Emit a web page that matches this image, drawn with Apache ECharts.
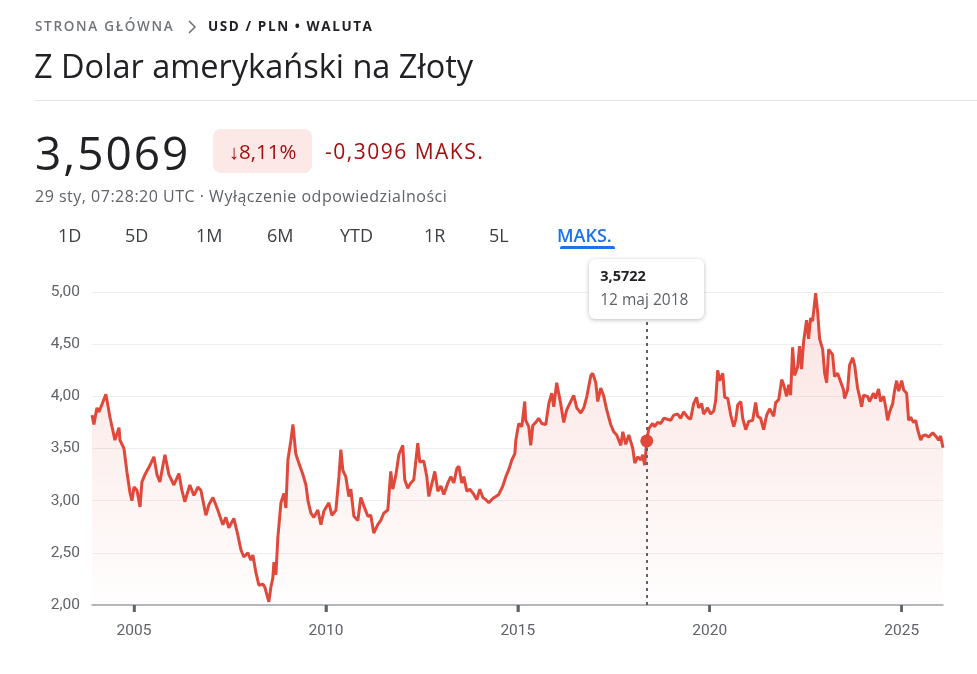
<!DOCTYPE html>
<html>
<head>
<meta charset="utf-8">
<script src="https://cdn.jsdelivr.net/npm/echarts@6/dist/echarts.min.js"></script>
<style>
  html, body { margin:0; padding:0; background:#fff; }
  body { width:977px; height:674px; overflow:hidden; position:relative; font-family: "Open Sans", Roboto, Arial, sans-serif; color:#202124; }
  #chart { position:absolute; left:0; top:0; width:977px; height:674px; }
  .abs { position:absolute; white-space:nowrap; z-index:2; }
  #crumb1 { left:35px; top:16px; font-size:13.5px; font-weight:600; letter-spacing:1.7px; color:#70757a; line-height:20px; }
  #crumb2 { left:208px; top:16px; font-size:13.5px; font-weight:700; letter-spacing:1.6px; color:#202124; line-height:20px; }
  #chev { left:187px; top:20px; }
  #title { left:34px; top:45px; font-size:32.5px; line-height:42px; color:#202124; font-weight:400; }
  #divider { left:35px; top:100px; width:942px; height:1px; background:#e3e3e3; }
  #price { left:35px; top:120px; font-size:46px; line-height:64px; color:#202124; letter-spacing:2px; }
  #badge { left:213px; top:129px; width:99px; height:44px; border-radius:8px; background:#fce8e6; color:#a50e0e; font-size:20.5px; line-height:44px; text-align:center; }
  #change { left:325px; top:137px; font-size:21px; line-height:28px; color:#a50e0e; letter-spacing:1.5px; }
  #sub { left:35px; top:185px; font-size:16px; line-height:22px; color:#5f6368; letter-spacing:0.5px; }
  .tab { position:absolute; top:223px; font-size:18px; line-height:24px; color:#3c4043; z-index:2; white-space:nowrap; }
  #tabline { left:560px; top:246px; width:55px; height:3px; background:#1a73e8; border-radius:2px 2px 0 0; }
  #tip { position:absolute; top:259px; width:115px; height:60px; background:#fff; border-radius:6px;
         box-shadow:0 1px 4px rgba(60,64,67,0.35); z-index:3; box-sizing:border-box; }
  #tipv { position:absolute; left:11px; top:7px; font-size:14.5px; font-weight:700; color:#202124; line-height:20px; }
  #tipd { position:absolute; left:11px; top:29px; font-size:15.5px; color:#5f6368; line-height:22px; }
</style>
</head>
<body>
<div id="chart"></div>

<div class="abs" id="crumb1">STRONA GŁÓWNA</div>
<svg class="abs" id="chev" width="10" height="14" viewBox="0 0 10 14"><polyline points="2,1 8,7 2,13" fill="none" stroke="#70757a" stroke-width="1.6"/></svg>
<div class="abs" id="crumb2">USD / PLN • WALUTA</div>
<div class="abs" id="title">Z Dolar amerykański na Złoty</div>
<div class="abs" id="divider"></div>
<div class="abs" id="price">3,5069</div>
<div class="abs" id="badge">↓8,11%</div>
<div class="abs" id="change">-0,3096 MAKS.</div>
<div class="abs" id="sub">29 sty, 07:28:20 UTC · Wyłączenie odpowiedzialności</div>

<div class="tab" style="left:58px">1D</div>
<div class="tab" style="left:125px">5D</div>
<div class="tab" style="left:196px">1M</div>
<div class="tab" style="left:267px">6M</div>
<div class="tab" style="left:340px">YTD</div>
<div class="tab" style="left:424px">1R</div>
<div class="tab" style="left:489px">5L</div>
<div class="tab" style="left:557px;color:#1a73e8;font-weight:600">MAKS.</div>
<div class="abs" id="tabline"></div>

<div id="tip"><div id="tipv"></div><div id="tipd"></div></div>

<script>
// ---- data ----
const dates = [
'2003-11-28','2003-12-16','2004-01-14','2004-02-02','2004-03-01','2004-04-08','2004-05-17','2004-07-03','2004-08-11','2004-08-20','2004-09-27','2004-10-26','2004-11-23','2004-12-12',
'2005-01-01','2005-01-29','2005-02-27','2005-03-17','2005-04-15','2005-05-23','2005-07-09','2005-08-07','2005-09-04','2005-10-22','2005-11-29',
'2006-01-15','2006-03-04','2006-04-01','2006-04-29','2006-06-16','2006-07-25','2006-09-01','2006-09-29','2006-11-16','2006-12-14',
'2007-01-22','2007-03-09','2007-04-26','2007-05-25','2007-06-22','2007-08-09','2007-09-16','2007-10-15','2007-11-12','2007-12-20',
'2008-01-18','2008-02-06','2008-03-06','2008-04-03','2008-05-11','2008-05-30','2008-06-18','2008-07-07','2008-07-26','2008-08-14','2008-08-24','2008-09-12','2008-10-01','2008-10-30','2008-11-27','2008-12-16',
'2009-01-04','2009-02-02','2009-02-21','2009-03-20','2009-04-18','2009-05-27','2009-06-25','2009-07-14','2009-08-11','2009-09-08','2009-10-16','2009-11-14','2009-12-13',
'2010-01-29','2010-02-27','2010-04-06','2010-05-05','2010-05-23','2010-06-11','2010-07-09','2010-08-07','2010-08-26','2010-09-24','2010-11-01','2010-11-29','2010-12-28',
'2011-02-04','2011-03-04','2011-04-01','2011-05-09','2011-06-07','2011-07-05','2011-08-13','2011-09-10','2011-09-29','2011-10-28','2011-11-26',
'2012-01-02','2012-01-21','2012-02-19','2012-03-18','2012-04-16','2012-05-24','2012-06-12','2012-07-20','2012-08-18','2012-09-06','2012-10-14','2012-11-02','2012-12-01','2012-12-30',
'2013-01-27','2013-03-06','2013-04-04','2013-05-02','2013-05-31','2013-06-19','2013-07-17','2013-08-05','2013-09-03','2013-10-01','2013-11-08','2013-12-07',
'2014-01-04','2014-02-02','2014-03-02','2014-03-31','2014-05-08','2014-06-06','2014-07-04','2014-08-11','2014-09-09','2014-10-08','2014-11-05','2014-12-04','2014-12-13',
'2015-01-10','2015-02-08','2015-03-08','2015-03-17','2015-04-15','2015-05-04','2015-05-23','2015-06-21','2015-07-19','2015-08-17','2015-09-24','2015-10-23','2015-11-20','2015-12-09',
'2016-01-06','2016-02-13','2016-03-13','2016-04-10','2016-05-18','2016-06-16','2016-07-15','2016-08-22','2016-09-20','2016-10-19','2016-11-26','2016-12-14',
'2017-01-12','2017-01-31','2017-02-28','2017-03-29','2017-04-26','2017-06-03','2017-07-02','2017-07-30','2017-09-07','2017-09-26','2017-10-24','2017-11-22','2017-12-30',
'2018-01-18','2018-02-15','2018-03-15','2018-04-03','2018-04-22','2018-05-12','2018-05-31','2018-07-07','2018-07-26','2018-08-24','2018-09-22','2018-10-21','2018-11-27','2018-12-26',
'2019-01-23','2019-03-02','2019-03-31','2019-04-28','2019-06-05','2019-07-03','2019-08-01','2019-08-29','2019-09-17','2019-10-16','2019-11-04','2019-12-12',
'2020-01-10','2020-02-08','2020-02-27','2020-03-17','2020-04-05','2020-05-04','2020-05-23','2020-06-21','2020-07-19','2020-08-17','2020-09-05','2020-09-24','2020-10-23','2020-11-10','2020-12-09',
'2021-01-06','2021-02-13','2021-03-13','2021-04-01','2021-04-29','2021-05-28','2021-06-26','2021-07-24','2021-09-01','2021-09-20','2021-10-19','2021-11-16','2021-12-05',
'2022-01-02','2022-01-21','2022-02-09','2022-02-28','2022-03-18','2022-04-16','2022-05-05','2022-05-24','2022-06-12','2022-07-11','2022-07-30','2022-08-18','2022-09-06','2022-10-05','2022-10-24','2022-11-12','2022-12-11','2022-12-30',
'2023-01-18','2023-02-06','2023-03-15','2023-04-03','2023-05-02','2023-05-31','2023-06-28','2023-07-07','2023-08-05','2023-08-24','2023-09-22','2023-10-11','2023-11-08','2023-11-27','2023-12-16',
'2024-01-04','2024-02-11','2024-03-01','2024-04-08','2024-04-27','2024-05-26','2024-06-14','2024-07-13','2024-08-01','2024-08-20','2024-09-08','2024-10-07','2024-10-26','2024-11-14','2024-12-03',
'2025-01-01','2025-01-20','2025-02-17','2025-03-08','2025-03-27','2025-04-24','2025-05-14','2025-06-02','2025-07-01','2025-07-19','2025-08-17','2025-09-15','2025-10-23','2025-11-20','2025-12-19',
'2026-01-06','2026-01-29'
];
const rates = [
3.82,3.73,3.89,3.85,3.92,4.02,3.80,3.58,3.70,3.58,3.50,3.27,3.08,3.00,
3.13,3.10,2.94,3.18,3.25,3.32,3.42,3.25,3.18,3.44,3.25,
3.15,3.26,3.10,2.99,3.15,3.05,3.13,3.10,2.86,2.96,
3.03,2.91,2.77,2.84,2.74,2.83,2.67,2.53,2.46,2.50,
2.43,2.48,2.31,2.19,2.20,2.17,2.10,2.03,2.17,2.26,2.41,2.29,2.65,2.98,3.07,2.93,
3.39,3.58,3.73,3.45,3.36,3.25,3.15,3.00,2.88,2.84,2.91,2.77,2.90,
2.98,2.86,2.91,3.23,3.49,3.29,3.23,3.04,3.11,2.85,2.81,3.03,2.95,
2.85,2.86,2.69,2.77,2.81,2.88,2.91,3.28,3.11,3.24,3.44,
3.53,3.20,3.12,3.17,3.20,3.55,3.37,3.38,3.23,3.04,3.20,3.28,3.09,3.14,
3.06,3.17,3.23,3.17,3.31,3.33,3.17,3.23,3.09,3.11,3.06,3.01,
3.11,3.03,3.01,2.98,3.02,3.04,3.06,3.14,3.23,3.30,3.39,3.45,3.58,
3.74,3.71,3.95,3.77,3.71,3.53,3.72,3.75,3.79,3.74,3.73,3.93,4.03,3.90,
4.13,3.93,3.75,3.87,3.95,4.01,3.89,3.84,3.89,4.00,4.20,4.22,
4.13,3.95,4.08,4.00,3.87,3.73,3.66,3.63,3.53,3.66,3.54,3.63,3.50,
3.36,3.42,3.39,3.44,3.34,3.5722,3.69,3.74,3.71,3.75,3.74,3.79,3.78,3.77,
3.82,3.83,3.79,3.85,3.80,3.78,3.93,3.99,3.89,3.93,3.83,3.89,
3.83,3.86,3.96,4.25,4.15,4.22,3.99,3.98,3.82,3.71,3.78,3.92,3.95,3.79,3.68,
3.76,3.77,3.94,3.81,3.79,3.68,3.82,3.88,3.81,3.94,3.97,4.16,4.11,
4.00,4.11,4.01,4.47,4.20,4.28,4.48,4.26,4.52,4.73,4.55,4.75,4.72,4.99,4.81,4.55,4.45,4.22,
4.13,4.45,4.40,4.19,4.22,4.14,4.06,3.98,4.06,4.30,4.37,4.30,4.08,4.00,3.90,
4.01,4.00,3.95,4.03,3.98,4.07,3.95,4.00,3.90,3.77,3.85,3.93,4.06,4.15,4.05,
4.15,4.06,4.03,3.77,3.80,3.75,3.77,3.68,3.58,3.62,3.63,3.61,3.65,3.62,3.58,
3.62,3.5069
];
const yearTicks = ['2005','2010','2015','2020','2025'];
const yMin = 2, yMax = 5, yStep = 0.5;
const tipDate = '2018-05-12';
const tipValue = 3.5722;
const tipDateLabel = '12 maj 2018';

// ---- chart ----
const toTs = s => new Date(s + 'T00:00:00').getTime();
const seriesData = dates.map((d, i) => [toTs(d), rates[i]]);
const tickTs = yearTicks.map(y => toTs(y + '-01-01'));
const fmt = v => v.toFixed(2).replace('.', ',');
const fmt4 = v => v.toFixed(4).replace('.', ',');

const chart = echarts.init(document.getElementById('chart'), null, { renderer: 'canvas' });
chart.setOption({
  animation: false,
  grid: { left: 92, right: 34, top: 292, bottom: 69 },
  xAxis: {
    type: 'value',
    min: toTs(dates[0]),
    max: toTs(dates[dates.length - 1]),
    splitLine: { show: false },
    axisLine: { show: true, lineStyle: { color: '#a0a4a8', width: 1.5 } },
    axisTick: { show: true, customValues: tickTs, length: 7, lineStyle: { color: '#5f6368', width: 2.5 } },
    axisLabel: {
      customValues: tickTs,
      formatter: v => String(new Date(v).getFullYear()),
      color: '#5f6368', fontSize: 15.5, margin: 18, fontFamily: 'Roboto'
    }
  },
  yAxis: {
    type: 'value', min: yMin, max: yMax, interval: yStep,
    axisLine: { show: false }, axisTick: { show: false },
    splitLine: { lineStyle: { color: '#efefef', width: 1 } },
    axisLabel: { formatter: fmt, color: '#5f6368', fontSize: 15.5, margin: 12, fontFamily: 'Roboto' }
  },
  series: [{
    type: 'line',
    data: seriesData,
    showSymbol: false,
    lineStyle: { color: '#e0483a', width: 3 },
    itemStyle: { color: '#e0483a' },
    areaStyle: {
      color: new echarts.graphic.LinearGradient(0, 0, 0, 1, [
        { offset: 0, color: 'rgba(224,72,58,0.22)' },
        { offset: 1, color: 'rgba(224,72,58,0.01)' }
      ])
    },
    markLine: {
      silent: true, symbol: 'none', label: { show: false },
      lineStyle: { color: '#5f6368', width: 2, type: [3, 4] },
      data: [{ xAxis: toTs(tipDate) }]
    },
    markPoint: {
      silent: true, symbol: 'circle', symbolSize: 13,
      itemStyle: { color: '#e0483a' }, label: { show: false },
      data: [{ coord: [toTs(tipDate), tipValue] }]
    },
    z: 3
  }]
});

// year tick stubs under the axis, positioned through the library's x scale
const axisY = chart.convertToPixel({ yAxisIndex: 0 }, yMin);
chart.setOption({
  graphic: tickTs.map(t => {
    const x = chart.convertToPixel({ xAxisIndex: 0 }, t);
    return { type: 'line', silent: true, z: 10,
      shape: { x1: x, y1: axisY, x2: x, y2: axisY + 7 },
      style: { stroke: '#5f6368', lineWidth: 2.5 } };
  })
});

// tooltip box placed from the library's own scale
const px = chart.convertToPixel({ xAxisIndex: 0 }, toTs(tipDate));
const tip = document.getElementById('tip');
tip.style.left = (px - 57.5) + 'px';
document.getElementById('tipv').textContent = fmt4(tipValue);
document.getElementById('tipd').textContent = tipDateLabel;
</script>
</body>
</html>
